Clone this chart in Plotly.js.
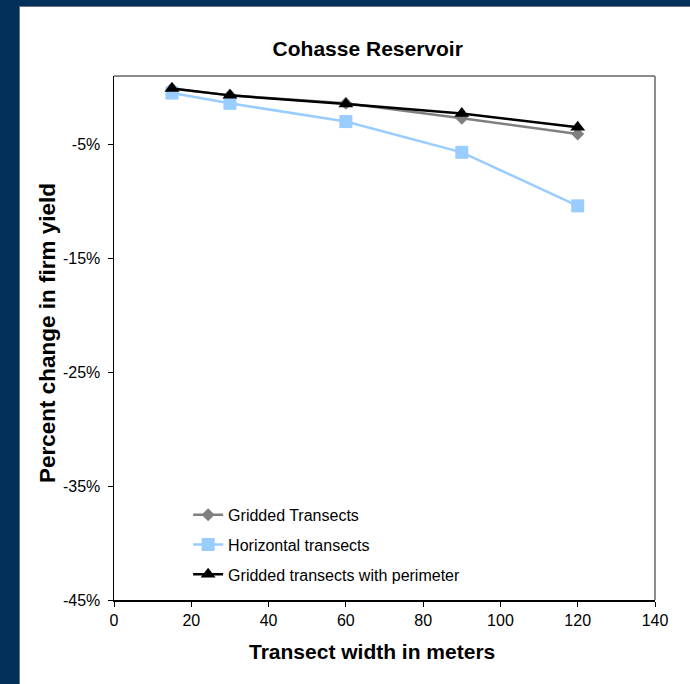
<!DOCTYPE html>
<html>
<head>
<meta charset="utf-8">
<script src="https://cdn.plot.ly/plotly-3.0.1.min.js"></script>
<style>
  html, body { margin: 0; padding: 0; background: #03305a; width: 690px; height: 684px; overflow: hidden; }
  #wrap { position: absolute; left: 19px; top: 6px; width: 671px; height: 678px; background: #ffffff;
          border-left: 1px solid #6d7378; border-top: 1px solid #6d7378; box-sizing: border-box; }
  #chart { position: absolute; left: 0; top: 0; width: 670px; height: 677px; }
</style>
</head>
<body>
<div id="wrap"><div id="chart"></div></div>
<script>
// Data (percent change in firm yield)
const widths = [15, 30, 60, 90, 120];
const griddedTransects = [-0.1, -0.7, -1.4, -2.7, -4.1];
const horizontalTransects = [-0.5, -1.4, -3.0, -5.7, -10.4];
const griddedWithPerimeter = [-0.1, -0.7, -1.45, -2.3, -3.5];

const seriesNames = ["Gridded Transects", "Horizontal transects", "Gridded transects with perimeter"];
const yTickValues = [-45, -35, -25, -15, -5];
const yTickLabels = ["-45%", "-35%", "-25%", "-15%", "-5%"];
const xTickValues = [0, 20, 40, 60, 80, 100, 120, 140];

const fontFam = "Arial, 'Liberation Sans', Helvetica, sans-serif";

const traces = [
  {
    x: widths, y: griddedTransects, name: seriesNames[0], type: "scatter", mode: "lines+markers",
    line: { color: "#808080", width: 2.5 },
    marker: { symbol: "diamond", size: 10, color: "#808080" },
    legendgroup: "a"
  },
  {
    x: widths, y: horizontalTransects, name: seriesNames[1], type: "scatter", mode: "lines+markers",
    line: { color: "#99ccff", width: 2.5 },
    marker: { symbol: "square", size: 13, color: "#99ccff" },
    legendgroup: "b"
  },
  {
    x: widths, y: griddedWithPerimeter, name: seriesNames[2], type: "scatter", mode: "lines+markers",
    line: { color: "#000000", width: 2.5 },
    marker: { symbol: "triangle-up", size: 13, color: "#000000" },
    legendgroup: "c"
  }
];

const layout = {
  width: 670, height: 677,
  margin: { l: 94, r: 35, t: 69, b: 84 },
  paper_bgcolor: "#ffffff",
  plot_bgcolor: "#ffffff",
  font: { family: fontFam, color: "#000000", size: 16 },
  title: {
    text: "<b>Cohasse Reservoir</b>",
    font: { family: fontFam, size: 21, color: "#000000" },
    xref: "container", x: 0.519, xanchor: "center",
    yref: "container", y: 0.939, yanchor: "middle"
  },
  xaxis: {
    range: [0, 140], tickvals: xTickValues, ticks: "outside", ticklen: 5, tickcolor: "#000000",
    showline: true, linecolor: "#000000", linewidth: 1.5, showgrid: false, zeroline: false,
    tickfont: { family: fontFam, size: 16, color: "#000000" }
  },
  yaxis: {
    range: [-45, 1], tickvals: yTickValues, ticktext: yTickLabels, ticks: "outside", ticklen: 5, tickcolor: "#000000",
    showline: true, linecolor: "#000000", linewidth: 1.5, showgrid: false, zeroline: false,
    tickfont: { family: fontFam, size: 16, color: "#000000" },
    ticklabelstandoff: 4
  },
  annotations: [
    {
      text: "<b>Transect width in meters</b>", showarrow: false,
      xref: "paper", yref: "paper", x: (352 - 94) / 541, y: (593 - 644) / 524,
      xanchor: "center", yanchor: "middle",
      font: { family: fontFam, size: 21, color: "#000000" }
    },
    {
      text: "<b>Percent change in firm yield</b>", showarrow: false, textangle: -90,
      xref: "paper", yref: "paper", x: (27 - 94) / 541, y: (593 - 326) / 524,
      xanchor: "center", yanchor: "middle",
      font: { family: fontFam, size: 22.5, color: "#000000" }
    }
  ],
  showlegend: true,
  legend: {
    x: 0.137, xanchor: "left", y: 0.195, yanchor: "top",
    bgcolor: "rgba(0,0,0,0)", borderwidth: 0,
    font: { family: fontFam, size: 16, color: "#000000" },
    tracegroupgap: 6, traceorder: "grouped"
  },
  shapes: [
    { type: "line", xref: "paper", yref: "paper", x0: 0, x1: 1, y0: 1, y1: 1, line: { color: "#8c8c8c", width: 2 } },
    { type: "line", xref: "paper", yref: "paper", x0: 1, x1: 1, y0: 0, y1: 1, line: { color: "#8c8c8c", width: 2 } }
  ]
};

Plotly.newPlot("chart", traces, layout, { displayModeBar: false, staticPlot: true });
</script>
</body>
</html>
